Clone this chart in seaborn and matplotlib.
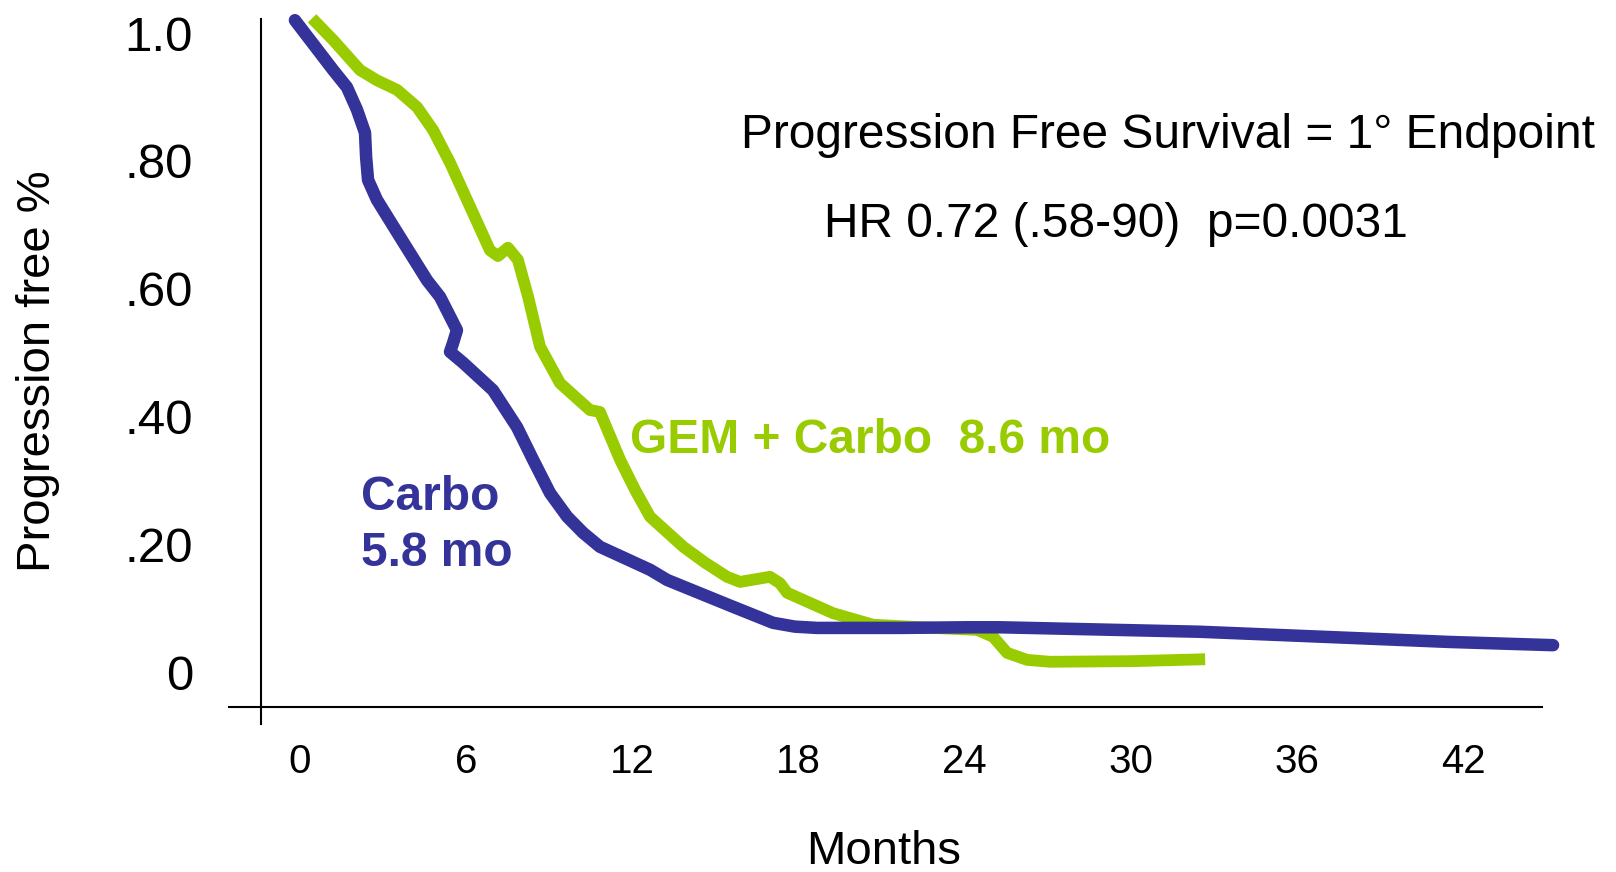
import numpy as np
import pandas as pd
import matplotlib
matplotlib.use("Agg")
import matplotlib.pyplot as plt
import seaborn as sns

# curves (months, fraction progression free)
carbo_months = [-0.17, 1.21, 1.71, 2.07, 2.36, 2.40, 2.47, 2.79, 3.62, 4.60, 5.07, 5.68, 5.54, 5.43,
                5.90, 6.98, 7.85, 8.43, 9.04, 9.66, 10.23, 10.84, 12.65, 13.27, 15.65, 17.09, 17.88,
                18.68, 21.67, 24.09, 25.28, 32.50, 41.53, 45.25]
carbo_pfs = [1.020, 0.942, 0.915, 0.880, 0.844, 0.806, 0.770, 0.739, 0.681, 0.613, 0.587, 0.535, 0.515,
             0.501, 0.484, 0.441, 0.383, 0.332, 0.280, 0.243, 0.218, 0.196, 0.160, 0.144, 0.102, 0.077,
             0.071, 0.069, 0.069, 0.070, 0.070, 0.063, 0.047, 0.042]

gem_months = [0.45, 1.21, 2.18, 2.79, 3.52, 4.24, 4.82, 5.43, 6.04, 6.87, 7.16, 7.52, 7.88, 8.25, 8.68,
              9.40, 10.48, 10.84, 11.57, 12.11, 12.65, 13.85, 14.64, 15.43, 15.90, 16.98, 17.34, 17.60,
              19.26, 20.70, 22.87, 24.46, 25.04, 25.54, 26.26, 27.09, 30.09, 32.69]
gem_pfs = [1.023, 0.989, 0.942, 0.926, 0.911, 0.884, 0.848, 0.797, 0.739, 0.660, 0.651, 0.664, 0.645,
           0.587, 0.509, 0.452, 0.410, 0.407, 0.332, 0.285, 0.243, 0.196, 0.171, 0.149, 0.141, 0.149,
           0.139, 0.124, 0.092, 0.074, 0.069, 0.066, 0.055, 0.030, 0.019, 0.016, 0.017, 0.020]

x_ticks = [0, 6, 12, 18, 24, 30, 36, 42]
y_ticks = [0, 0.2, 0.4, 0.6, 0.8, 1.0]
y_ticklabels = ["0", ".20", ".40", ".60", ".80", "1.0"]

blue = "#333399"
green = "#99CC00"

sns.set_theme(style="white")
plt.rcParams["font.family"] = ["Liberation Sans", "DejaVu Sans"]

fig = plt.figure(figsize=(16.16, 8.72), dpi=100)
ax = fig.add_axes([0.1417, 0.1697, 0.8125, 0.8085])

carbo = pd.DataFrame({"month": carbo_months, "pfs": carbo_pfs})
gem = pd.DataFrame({"month": gem_months, "pfs": gem_pfs})

sns.lineplot(data=gem, x="month", y="pfs", sort=False, estimator=None, ax=ax, clip_on=False,
             color=green, linewidth=8.5, solid_capstyle="butt", solid_joinstyle="round")
sns.lineplot(data=carbo, x="month", y="pfs", sort=False, estimator=None, ax=ax, clip_on=False,
             color=blue, linewidth=9, solid_capstyle="round", solid_joinstyle="round")

ax.set_xlim(-2.55, 44.85)
ax.set_ylim(-0.0814, 1.0219)

for s in ["top", "right"]:
    ax.spines[s].set_visible(False)
ax.spines["left"].set_position(("data", -1.39))
ax.spines["bottom"].set_position(("data", -0.0548))
for s in ["left", "bottom"]:
    ax.spines[s].set_color("black")
    ax.spines[s].set_linewidth(1.5)

ax.set_xticks(x_ticks)
ax.set_xticklabels([str(t) for t in x_ticks])
ax.set_yticks(y_ticks)
ax.set_yticklabels(y_ticklabels)
ax.tick_params(axis="y", length=0, pad=49, labelsize=35.5, labelcolor="black")
ax.tick_params(axis="x", length=0, pad=26, labelsize=29, labelcolor="black")

ax.set_xlabel("Months", fontsize=34, color="black")
ax.xaxis.set_label_coords(0.4989, -0.150)
ax.set_ylabel("Progression free %", fontsize=34, color="black")
ax.yaxis.set_label_coords(-0.1285, 0.5)

ax.text(31.35, 0.820, "Progression Free Survival = 1\u00b0 Endpoint", fontsize=34.5,
        ha="center", va="baseline", color="black")
ax.text(29.48, 0.681, "HR 0.72 (.58-90)  p=0.0031", fontsize=34.5,
        ha="center", va="baseline", color="black")
ax.text(11.93, 0.343, "GEM + Carbo  8.6 mo", fontsize=34.5, fontweight="bold",
        ha="left", va="baseline", color=green)
ax.text(2.22, 0.2535, "Carbo", fontsize=34.5, fontweight="bold",
        ha="left", va="baseline", color=blue)
ax.text(2.22, 0.166, "5.8 mo", fontsize=34.5, fontweight="bold",
        ha="left", va="baseline", color=blue)

fig.savefig("out.png", dpi=100)
